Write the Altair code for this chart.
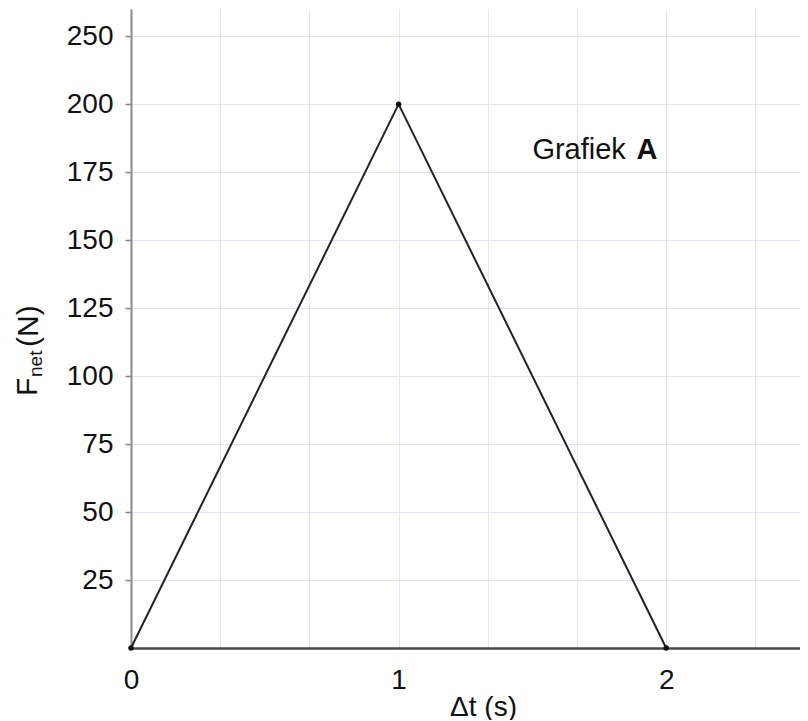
import altair as alt
import pandas as pd

# data
t_values = [0, 1, 2]
f_values = [0, 200, 0]
x_grid = [0, 1/3, 2/3, 1, 4/3, 5/3, 2, 7/3]
y_ticks = [25, 50, 75, 100, 125, 150, 175, 200, 225]
note_x = [1.5]
note_y = [180]

df = pd.DataFrame({"t": t_values, "F": f_values})
note = pd.DataFrame({"t": note_x, "F": note_y})

FONT = "Liberation Sans"
GRID = "#e3e3fc"

xscale = alt.Scale(domain=[0, 2.5], nice=False, zero=False)
yscale = alt.Scale(domain=[0, 235], nice=False)

x_axis = alt.Axis(
    values=x_grid,
    labelExpr="abs(datum.value - round(datum.value)) < 0.001 ? format(datum.value, 'd') : ''",
    grid=True, gridColor=GRID, gridWidth=1,
    domain=True, domainColor="#4a4a4a", domainWidth=2.5,
    ticks=False, labelPadding=18, labelFontSize=28, labelFont=FONT,
    labelColor="#111", labelBaseline="top", labelFlush=False,
    title="Δt (s)", titleFont=FONT, titleFontSize=28, titleFontWeight="normal",
    titleColor="#111", titleX=352, titleY=67, titleBaseline="alphabetic",
    titleAnchor="start", titleAlign="center",
)
y_axis = alt.Axis(
    values=y_ticks,
    labelExpr="datum.value == 225 ? '250' : datum.label",
    grid=True, gridColor=GRID, gridWidth=1,
    domain=True, domainColor="#8a8a8a", domainWidth=2,
    ticks=True, tickColor="#8a8a8a", tickSize=6, tickWidth=1.5, tickOffset=0,
    labelPadding=12, labelFontSize=28, labelFont=FONT, labelColor="#111",
    title=None,
)

base = alt.Chart(df)

line = base.mark_line(color="#222222", strokeWidth=2).encode(
    x=alt.X("t:Q", scale=xscale, axis=x_axis),
    y=alt.Y("F:Q", scale=yscale, axis=y_axis),
)
pts = base.mark_point(filled=True, color="#111111", size=30, opacity=1).encode(
    x=alt.X("t:Q", scale=xscale),
    y=alt.Y("F:Q", scale=yscale),
)

lbl1 = alt.Chart(note).mark_text(
    text="Grafiek", font=FONT, fontSize=29, align="left", baseline="alphabetic", color="#111"
).encode(x=alt.X("t:Q", scale=xscale), y=alt.Y("F:Q", scale=yscale))
lbl2 = alt.Chart(note).mark_text(
    text="A", font=FONT, fontSize=29, fontWeight="bold", align="left",
    baseline="alphabetic", color="#111", dx=104
).encode(x=alt.X("t:Q", scale=xscale), y=alt.Y("F:Q", scale=yscale))

# y-axis title with subscript
yt1 = alt.Chart(note).mark_text(
    text="F", font=FONT, fontSize=30, angle=270, align="left", baseline="alphabetic", color="#111"
).encode(x=alt.value(-94), y=alt.value(387))
yt2 = alt.Chart(note).mark_text(
    text="net", font=FONT, fontSize=19, angle=270, align="left", baseline="alphabetic", color="#111"
).encode(x=alt.value(-89), y=alt.value(368))
yt3 = alt.Chart(note).mark_text(
    text="(N)", font=FONT, fontSize=30, angle=270, align="left", baseline="alphabetic", color="#111"
).encode(x=alt.value(-93), y=alt.value(338))

chart = alt.layer(line, pts, lbl1, lbl2, yt1, yt2, yt3).properties(
    width=669, height=639,
    autosize=alt.AutoSizeParams(type="none"),
    padding={"left": 123, "top": 1, "right": 0, "bottom": 72},
    background="white",
).configure_view(stroke=None)

chart.save("out.html", embed_options={"renderer": "svg", "actions": False})
